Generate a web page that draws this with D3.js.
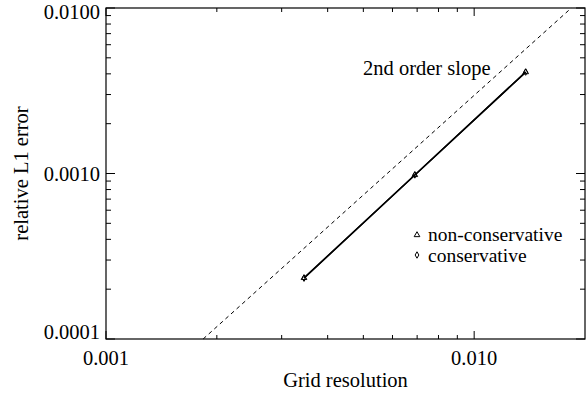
<!DOCTYPE html>
<html><head><meta charset="utf-8">
<script src="https://cdn.jsdelivr.net/npm/d3@7"></script>
<style>body{margin:0;background:#fff}svg{display:block}text{font-family:"Liberation Serif","Times New Roman",serif;fill:#000}</style>
</head><body><svg id="c" width="587" height="394"></svg>
<script>
const resolution = [0.00345, 0.0069, 0.0138];
const errNonConservative = [2.34e-4, 9.8e-4, 4.1e-3];
const errConservative = [2.33e-4, 9.8e-4, 4.1e-3];
const slopeX = [0.001836, 0.01836];
const slopeY = [1e-4, 1e-2];
const xTickLabels = ["0.001", "0.010"];
const yTickLabels = ["0.0001", "0.0010", "0.0100"];
const xMajor = [0.001, 0.01];
const yMajor = [1e-4, 1e-3, 1e-2];

const W = 587, H = 394;
const m = {l:106, r:2, t:8, b:55};
const svg = d3.select("#c");
const x = d3.scaleLog().domain([0.001, 0.02]).range([m.l, W - m.r]);
const y = d3.scaleLog().domain([1e-4, 1e-2]).range([H - m.b, m.t]);

const xMinor = [], yMinor = [];
[0.001, 0.01].forEach(d => { for (let k = 2; k <= 9; k++) { const v = d * k; if (v < 0.02) xMinor.push(v); } });
[1e-4, 1e-3].forEach(d => { for (let k = 2; k <= 9; k++) yMinor.push(d * k); });

const fs = 20.5, lfs = 19.5;
svg.append("rect").attr("x", m.l).attr("y", m.t).attr("width", W - m.r - m.l).attr("height", H - m.b - m.t)
  .attr("fill", "none").attr("stroke", "#000").attr("stroke-width", 1.2);

const g = svg.append("g").attr("stroke", "#000").attr("stroke-width", 1);
function xt(vals, len) {
  vals.forEach(v => {
    g.append("line").attr("x1", x(v)).attr("x2", x(v)).attr("y1", y(1e-4)).attr("y2", y(1e-4) - len);
    g.append("line").attr("x1", x(v)).attr("x2", x(v)).attr("y1", y(1e-2)).attr("y2", y(1e-2) + len);
  });
}
xt(xMajor, 8); xt(xMinor, 4);
function yt(vals, len) {
  vals.forEach(v => {
    g.append("line").attr("y1", y(v)).attr("y2", y(v)).attr("x1", x(0.001)).attr("x2", x(0.001) + len);
    g.append("line").attr("y1", y(v)).attr("y2", y(v)).attr("x1", x(0.02)).attr("x2", x(0.02) - len);
  });
}
yt(yMajor, 9); yt(yMinor, 5);

xMajor.forEach((v, i) => svg.append("text").attr("x", x(v)).attr("y", H - m.b + 26)
  .attr("text-anchor", "middle").attr("font-size", fs).text(xTickLabels[i]));
const yBase = [0, 7.5, 11];
yMajor.forEach((v, i) => svg.append("text").attr("x", m.l - 6).attr("y", y(v) + yBase[i])
  .attr("text-anchor", "end").attr("font-size", fs).text(yTickLabels[i]));

svg.append("text").attr("x", (m.l + W - m.r) / 2).attr("y", H - 7).attr("text-anchor", "middle")
  .attr("font-size", fs).text("Grid resolution");
svg.append("text").attr("transform", `translate(21,${(m.t + H - m.b) / 2}) rotate(-90)`)
  .attr("text-anchor", "middle").attr("dy", "0.35em").attr("font-size", fs).text("relative L1 error");

const lineGen = d3.line().x(d => x(d[0])).y(d => y(d[1]));
const slope = slopeX.map((v, i) => [v, slopeY[i]]);
svg.append("path").attr("d", lineGen(slope))
  .attr("fill", "none").attr("stroke", "#000").attr("stroke-width", 1).attr("stroke-dasharray", "4,3.5");
svg.append("text").attr("x", 363).attr("y", 75).attr("font-size", fs).text("2nd order slope");

const nc = resolution.map((v, i) => [v, errNonConservative[i]]);
const co = resolution.map((v, i) => [v, errConservative[i]]);
svg.append("path").attr("d", lineGen(nc)).attr("fill", "none").attr("stroke", "#000").attr("stroke-width", 1.5);
svg.append("path").attr("d", lineGen(co)).attr("fill", "none").attr("stroke", "#000").attr("stroke-width", 1.5);

const tri = d3.symbol().type(d3.symbolTriangle).size(14);
const dia = d3.symbol().type(d3.symbolDiamond).size(12);
svg.selectAll(".tri").data(nc).join("path").attr("transform", d => `translate(${x(d[0])},${y(d[1])})`)
  .attr("d", tri()).attr("fill", "none").attr("stroke", "#000").attr("stroke-width", 1);
svg.selectAll(".dia").data(co).join("path").attr("transform", d => `translate(${x(d[0])},${y(d[1])})`)
  .attr("d", dia()).attr("fill", "none").attr("stroke", "#000").attr("stroke-width", 1);

const lg = svg.append("g");
lg.append("path").attr("transform", "translate(417,235)").attr("d", tri()).attr("fill", "none").attr("stroke", "#000");
lg.append("text").attr("x", 428).attr("y", 240.5).attr("font-size", lfs).text("non-conservative");
lg.append("path").attr("transform", "translate(417,255)").attr("d", dia()).attr("fill", "none").attr("stroke", "#000");
lg.append("text").attr("x", 428).attr("y", 262).attr("font-size", lfs).text("conservative");
</script></body></html>
